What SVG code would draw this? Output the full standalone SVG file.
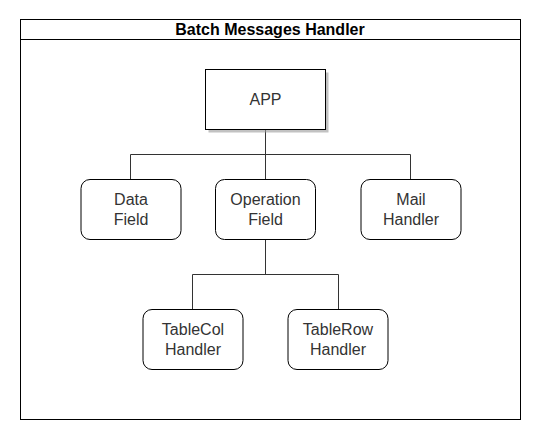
<svg xmlns="http://www.w3.org/2000/svg" width="544" height="439" viewBox="0 0 544 439">
<style>
.box{fill:#fff;stroke:#000;stroke-width:1}
.conn{fill:none;stroke:#333;stroke-width:1}
.t{font-family:"Liberation Sans",Arial,sans-serif;font-size:16px;fill:#333;text-anchor:middle}
.title{font-family:"Liberation Sans",Arial,sans-serif;font-size:16px;font-weight:bold;fill:#000;text-anchor:middle}
</style>
<rect width="544" height="439" fill="#fff"/>
<g id="container">
<rect x="20.5" y="19.5" width="500" height="400" class="box"/>
<line x1="20.5" y1="39.5" x2="520.5" y2="39.5" stroke="#000"/>
<text x="270" y="35" class="title">Batch Messages Handler</text>
</g>
<g id="connectors">
<path class="conn" d="M265.5 129 V179 M130.5 179 V154.5 H410.5 V179"/>
<path class="conn" d="M265.5 239 V274.5 M192.5 309 V274.5 H338.5 V309"/>
</g>
<g id="app">
<rect x="208.5" y="72.5" width="120" height="60" fill="#999" opacity="0.6"/>
<rect x="205.5" y="69.5" width="120" height="60" class="box"/>
<text x="265.5" y="105" class="t">APP</text>
</g>
<g id="data-field">
<rect x="81" y="179.5" width="100" height="60" rx="9" class="box"/>
<text x="131" y="205" class="t">Data</text>
<text x="131" y="225" class="t">Field</text>
</g>
<g id="operation-field">
<rect x="215.5" y="179.5" width="100" height="60" rx="9" class="box"/>
<text x="265.5" y="205" class="t">Operation</text>
<text x="265.5" y="225" class="t">Field</text>
</g>
<g id="mail-handler">
<rect x="361" y="179.5" width="100" height="60" rx="9" class="box"/>
<text x="411" y="205" class="t">Mail</text>
<text x="411" y="225" class="t">Handler</text>
</g>
<g id="tablecol-handler">
<rect x="143" y="309.5" width="100" height="60" rx="9" class="box"/>
<text x="193" y="335" class="t">TableCol</text>
<text x="193" y="355" class="t">Handler</text>
</g>
<g id="tablerow-handler">
<rect x="288" y="309.5" width="100" height="60" rx="9" class="box"/>
<text x="338" y="335" class="t">TableRow</text>
<text x="338" y="355" class="t">Handler</text>
</g>
</svg>
